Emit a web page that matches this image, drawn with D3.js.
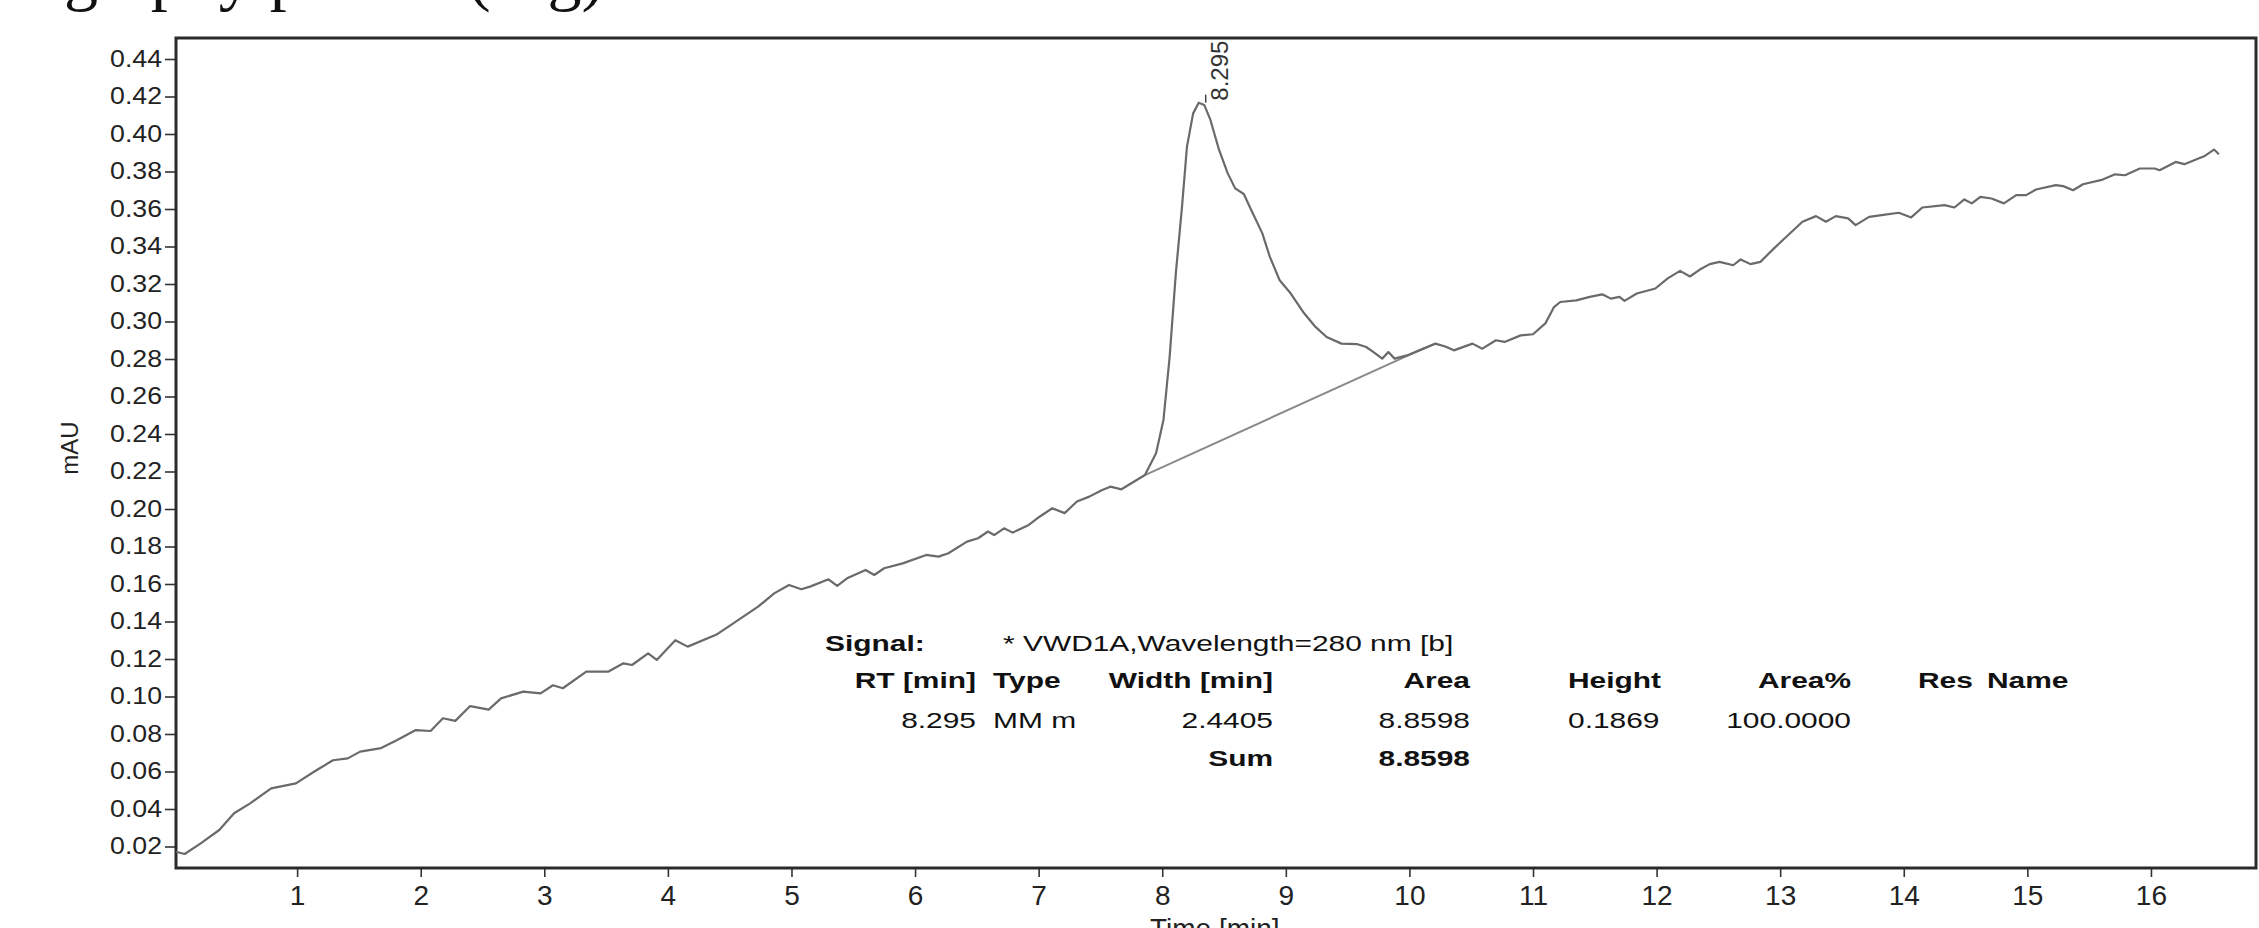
<!DOCTYPE html>
<html>
<head>
<meta charset="utf-8">
<script src="https://cdn.jsdelivr.net/npm/d3@7"></script>
<style>
body { margin: 0; background: #fff; overflow: hidden; }
svg text { font-family: "Liberation Sans", Arial, sans-serif; }
</style>
</head>
<body>
<svg id="chart" width="2259" height="928"></svg>
<script>
/*Chart data*/
var times = [0.02, 0.09, 0.22, 0.37, 0.49, 0.62, 0.79, 0.99, 1.14, 1.29, 1.41, 1.51, 1.68, 1.81, 1.96,
  2.08, 2.18, 2.28, 2.40, 2.55, 2.65, 2.83, 2.97, 3.07, 3.15, 3.34, 3.52, 3.64, 3.71, 3.84, 3.91,
  4.06, 4.16, 4.39, 4.49, 4.73, 4.86, 4.98, 5.08, 5.15, 5.30, 5.37, 5.45, 5.60, 5.67, 5.75, 5.90,
  6.09, 6.19, 6.27, 6.42, 6.51, 6.59, 6.64, 6.72, 6.79, 6.92, 7.01, 7.11, 7.21, 7.31, 7.41, 7.51,
  7.58, 7.67, 7.75, 7.86, 7.95, 8.01, 8.06, 8.11, 8.16, 8.20, 8.25, 8.295, 8.34, 8.39, 8.46, 8.53,
  8.59, 8.66, 8.72, 8.81, 8.87, 8.95, 9.04, 9.14, 9.24, 9.33, 9.45, 9.58, 9.65, 9.71, 9.78, 9.83,
  9.88, 9.98, 10.08, 10.21, 10.29, 10.36, 10.51, 10.59, 10.70, 10.77, 10.90, 11.00, 11.10, 11.17,
  11.22, 11.35, 11.46, 11.56, 11.63, 11.70, 11.74, 11.84, 11.99, 12.09, 12.19, 12.27, 12.35, 12.43,
  12.51, 12.62, 12.68, 12.76, 12.84, 12.95, 13.05, 13.18, 13.29, 13.37, 13.45, 13.55, 13.61, 13.72,
  13.82, 13.96, 14.06, 14.15, 14.33, 14.41, 14.49, 14.55, 14.62, 14.71, 14.81, 14.91, 14.99, 15.07,
  15.23, 15.29, 15.37, 15.45, 15.61, 15.71, 15.79, 15.91, 16.03, 16.07, 16.20, 16.27, 16.35, 16.43,
  16.51, 16.55];
var signal = [0.0172, 0.0160, 0.0217, 0.0288, 0.0377, 0.0430, 0.0510, 0.0537, 0.0600, 0.0660, 0.0670, 0.0706, 0.0725, 0.0768, 0.0821,
  0.0816, 0.0884, 0.0870, 0.0949, 0.0930, 0.0990, 0.1026, 0.1017, 0.1060, 0.1044, 0.1133, 0.1133, 0.1177, 0.1168, 0.1230, 0.1195,
  0.1300, 0.1266, 0.1329, 0.1373, 0.1479, 0.1550, 0.1595, 0.1572, 0.1586, 0.1625, 0.1590, 0.1630, 0.1675, 0.1648, 0.1684, 0.1710,
  0.1755, 0.1746, 0.1764, 0.1826, 0.1844, 0.1880, 0.1861, 0.1897, 0.1874, 0.1915, 0.1960, 0.2004, 0.1978, 0.2040, 0.2066, 0.2100,
  0.2119, 0.2105, 0.2137, 0.2181, 0.2297, 0.2475, 0.2812, 0.3257, 0.3612, 0.3932, 0.4110, 0.4167, 0.4155, 0.4075, 0.3915, 0.3790,
  0.3710, 0.3680, 0.3595, 0.3470, 0.3346, 0.3220, 0.3149, 0.3051, 0.2971, 0.2917, 0.2882, 0.2879, 0.2864, 0.2837, 0.2802, 0.2837,
  0.2802, 0.2819, 0.2846, 0.2882, 0.2867, 0.2846, 0.2882, 0.2855, 0.2900, 0.2891, 0.2926, 0.2932, 0.2990, 0.3077,
  0.3104, 0.3113, 0.3131, 0.3145, 0.3122, 0.3131, 0.3110, 0.3149, 0.3176, 0.3230, 0.3270, 0.3240, 0.3277, 0.3306,
  0.3318, 0.3300, 0.3331, 0.3306, 0.3318, 0.3390, 0.3452, 0.3532, 0.3562, 0.3532, 0.3562, 0.3550, 0.3514, 0.3558,
  0.3567, 0.3580, 0.3555, 0.3608, 0.3621, 0.3608, 0.3651, 0.3630, 0.3665, 0.3656, 0.3630, 0.3674, 0.3674, 0.3704,
  0.3727, 0.3722, 0.3700, 0.3732, 0.3757, 0.3785, 0.3780, 0.3816, 0.3816, 0.3807, 0.3851, 0.3839, 0.3860, 0.3881,
  0.3917, 0.3892];

//Integration baseline under the peak
var baselineTimes = [7.86, 10.12];
var baselineValues = [0.2181, 0.2858];

var peakRT = 8.295;
var peakHeight = 0.4167;

var xTicks = [1, 2, 3, 4, 5, 6, 7, 8, 9, 10, 11, 12, 13, 14, 15, 16];
var yTicks = [0.02, 0.04, 0.06, 0.08, 0.10, 0.12, 0.14, 0.16, 0.18, 0.20, 0.22,
  0.24, 0.26, 0.28, 0.30, 0.32, 0.34, 0.36, 0.38, 0.40, 0.42, 0.44];

//Peak report table
var signalName = "* VWD1A,Wavelength=280 nm [b]";
var tableHeaders = ["RT [min]", "Type", "Width [min]", "Area", "Height", "Area%", "Res", "Name"];
var tableRow = ["8.295", "MM m", "2.4405", "8.8598", "0.1869", "100.0000"];
var sumRow = ["Sum", "8.8598"];

/*Layout*/
var svg = d3.select("#chart");
var plotLeft = 176, plotRight = 2256, plotTop = 38, plotBottom = 868;

var x = d3.scaleLinear().domain([0.02, 16.85]).range([plotLeft, plotRight]);
var y = d3.scaleLinear().domain([0.00853, 0.4512]).range([plotBottom, plotTop]);

//Cut-off caption from the page above the figure
svg.append("text")
  .attr("x", -208)
  .attr("y", -2)
  .style("font-family", "'Liberation Serif', serif")
  .style("font-size", "68px")
  .attr("fill", "#111")
  .text("Chromatography profile (Fig)");

/*Axes*/
var yAxis = svg.append("g")
  .attr("transform", "translate(" + plotLeft + ",0)")
  .call(d3.axisLeft(y).tickValues(yTicks).tickSize(11).tickPadding(3).tickFormat(d3.format(".2f")));
yAxis.select(".domain").remove();
yAxis.selectAll("line").attr("stroke", "#333").attr("stroke-width", 1.6);
yAxis.selectAll("text")
  .style("font-size", "23px")
  .attr("fill", "#222")
  .attr("transform", "translate(-14,0) scale(1.16,1)")
  .attr("x", 0);

var xAxis = svg.append("g")
  .attr("transform", "translate(0," + plotBottom + ")")
  .call(d3.axisBottom(x).tickValues(xTicks).tickSize(9).tickPadding(8));
xAxis.select(".domain").remove();
xAxis.selectAll("line").attr("stroke", "#333").attr("stroke-width", 1.6);
xAxis.selectAll("text").style("font-size", "28px").attr("fill", "#222");

//Plot frame
svg.append("rect")
  .attr("x", plotLeft).attr("y", plotTop)
  .attr("width", plotRight - plotLeft).attr("height", plotBottom - plotTop)
  .attr("fill", "none")
  .attr("stroke", "#2b2b2b")
  .attr("stroke-width", 3);

//Axis titles
svg.append("text")
  .attr("transform", "translate(78,448) rotate(-90)")
  .attr("text-anchor", "middle")
  .style("font-size", "24px")
  .attr("fill", "#222")
  .text("mAU");

svg.append("text")
  .attr("x", 1150)
  .attr("y", 938)
  .style("font-size", "28px")
  .attr("fill", "#222")
  .text("Time [min]");

/*Trace*/
var points = times.map(function (t, i) { return [t, signal[i]]; });
var line = d3.line()
  .x(function (d) { return x(d[0]); })
  .y(function (d) { return y(d[1]); });

svg.append("path")
  .datum(baselineTimes.map(function (t, i) { return [t, baselineValues[i]]; }))
  .attr("d", line)
  .attr("fill", "none")
  .attr("stroke", "#8a8a8a")
  .attr("stroke-width", 2);

svg.append("path")
  .datum(points)
  .attr("d", line)
  .attr("fill", "none")
  .attr("stroke", "#6a6a6a")
  .attr("stroke-width", 2.2)
  .attr("stroke-linejoin", "round");

//Retention time label on the peak
var px = x(peakRT), py = y(peakHeight);
svg.append("line")
  .attr("x1", px + 7).attr("x2", px + 7)
  .attr("y1", py - 8).attr("y2", py)
  .attr("stroke", "#444").attr("stroke-width", 1.5);
svg.append("text")
  .attr("transform", "translate(" + (px + 29) + "," + (py - 2) + ") rotate(-90)")
  .style("font-size", "24px")
  .attr("fill", "#333")
  .text(peakRT.toFixed(3));

/*Report table*/
var table = svg.append("g");
function cell(str, xPos, yPos, anchor, bold) {
  table.append("text")
    .attr("transform", "translate(" + xPos + "," + yPos + ") scale(1.36,1)")
    .attr("text-anchor", anchor)
    .style("font-size", "22px")
    .style("font-weight", bold ? "bold" : "normal")
    .attr("fill", "#111")
    .text(str);
}

cell("Signal:", 825, 651, "start", true);
cell(signalName, 1003, 651, "start", false);

var headerPos = [[976, "end"], [993, "start"], [1273, "end"], [1470, "end"],
  [1568, "start"], [1851, "end"], [1918, "start"], [1987, "start"]];
tableHeaders.forEach(function (h, i) {
  cell(h, headerPos[i][0], 688, headerPos[i][1], true);
});
tableRow.forEach(function (v, i) {
  cell(v, headerPos[i][0], 728, headerPos[i][1], false);
});
cell(sumRow[0], 1273, 766, "end", true);
cell(sumRow[1], 1470, 766, "end", true);
</script>
</body>
</html>
